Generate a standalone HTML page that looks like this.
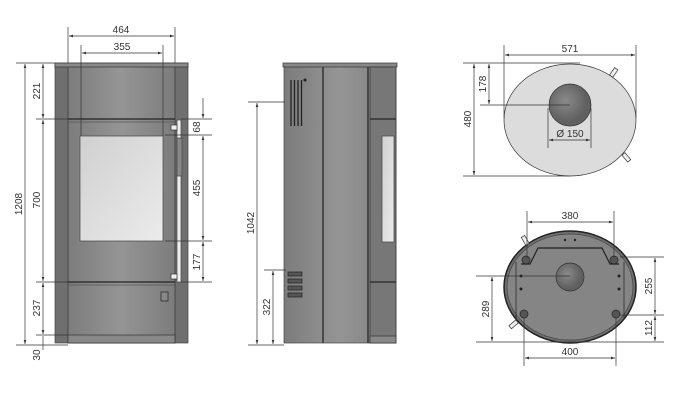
<!DOCTYPE html>
<html><head><meta charset="utf-8"><style>
html,body{margin:0;padding:0;background:#fff;}
svg{display:block;}
text{font-family:"Liberation Sans",sans-serif;font-size:10px;fill:#333;}
</style></head><body>
<svg width="684" height="418" viewBox="0 0 684 418" xmlns="http://www.w3.org/2000/svg">
<defs>
<linearGradient id="g" x1="0" x2="1"><stop offset="0" stop-color="#7c7c7c"/><stop offset="0.5" stop-color="#959595"/><stop offset="1" stop-color="#7c7c7c"/></linearGradient>
<linearGradient id="gl" x1="0" y1="0" x2="1" y2="1"><stop offset="0" stop-color="#d0d0d0"/><stop offset="1" stop-color="#ebebeb"/></linearGradient>
<radialGradient id="fl" cx="0.4" cy="0.4"><stop offset="0" stop-color="#8a8a8a"/><stop offset="1" stop-color="#606060"/></radialGradient>
<marker id="a" viewBox="0 0 6 6" refX="6" refY="3" markerWidth="6" markerHeight="6" orient="auto-start-reverse"><path d="M0,1 L6,3 L0,5 z" fill="#333"/></marker>
</defs>
<g stroke="#333" stroke-width="0.7" fill="none">
<!-- FRONT VIEW -->
<rect x="55" y="63" width="133" height="280" fill="#6f6f6f" stroke="#444"/>
<rect x="68" y="64" width="107" height="279" fill="url(#g)" stroke="#333"/>
<rect x="55" y="63" width="133" height="4" fill="#8a8a8a"/>
<line x1="68" y1="119" x2="175" y2="119" stroke-width="1.5"/>
<line x1="68" y1="122" x2="175" y2="122" stroke="#555"/>
<rect x="80" y="136" width="83" height="105" fill="url(#gl)" stroke="#444"/>
<line x1="68" y1="282" x2="175" y2="282" stroke-width="1.5"/>
<line x1="68" y1="285" x2="175" y2="285" stroke="#555"/>
<rect x="68" y="335" width="107" height="8" fill="#888" stroke="#333"/>
<rect x="177" y="120" width="4" height="162" fill="#eee" stroke="#444"/>
<rect x="177" y="138" width="5" height="38" fill="#888" stroke="#444"/>
<rect x="171" y="125" width="6" height="5" fill="#eee" stroke="#333"/>
<rect x="171" y="274" width="6" height="5" fill="#eee" stroke="#333"/>
<rect x="161" y="292" width="7" height="9" fill="#888" stroke="#222"/>
<!-- front dims -->
<line x1="68" y1="27" x2="68" y2="63"/><line x1="175" y1="27" x2="175" y2="63"/>
<line x1="69" y1="36" x2="174" y2="36" marker-start="url(#a)" marker-end="url(#a)"/>
<line x1="81" y1="45" x2="81" y2="136"/><line x1="163" y1="45" x2="163" y2="136"/>
<line x1="82" y1="53" x2="162" y2="53" marker-start="url(#a)" marker-end="url(#a)"/>
<line x1="16" y1="63" x2="55" y2="63"/><line x1="16" y1="345" x2="68" y2="345"/>
<line x1="25" y1="64" x2="25" y2="344" marker-start="url(#a)" marker-end="url(#a)"/>
<line x1="36" y1="119" x2="68" y2="119"/><line x1="36" y1="282" x2="68" y2="282"/><line x1="36" y1="335" x2="68" y2="335"/>
<line x1="43" y1="64" x2="43" y2="118" marker-start="url(#a)" marker-end="url(#a)"/>
<line x1="43" y1="120" x2="43" y2="281" marker-start="url(#a)" marker-end="url(#a)"/>
<line x1="43" y1="283" x2="43" y2="334" marker-start="url(#a)" marker-end="url(#a)"/>
<line x1="43" y1="336" x2="43" y2="350"/>
<line x1="181" y1="119" x2="212" y2="119"/><line x1="165" y1="135" x2="212" y2="135"/><line x1="165" y1="241" x2="212" y2="241"/><line x1="181" y1="282" x2="212" y2="282"/>
<line x1="203" y1="98" x2="203" y2="118" marker-end="url(#a)"/>
<line x1="203" y1="136" x2="203" y2="240" marker-start="url(#a)" marker-end="url(#a)"/>
<line x1="203" y1="242" x2="203" y2="281" marker-start="url(#a)" marker-end="url(#a)"/>
<!-- SIDE VIEW -->
<rect x="284" y="66" width="112" height="277" fill="url(#g)" stroke="#444"/>
<rect x="283" y="63" width="114" height="4" fill="#888"/>
<rect x="370" y="67" width="26" height="276" fill="#777" stroke="#333"/>
<line x1="323" y1="67" x2="323" y2="343" stroke-width="1.5"/>
<line x1="368" y1="67" x2="368" y2="343" stroke-width="1.5"/>
<line x1="370" y1="119" x2="396" y2="119" stroke-width="1.5"/>
<line x1="370" y1="282" x2="396" y2="282" stroke-width="1.5"/>
<rect x="382" y="136" width="12" height="106" fill="url(#gl)" stroke="#444"/>
<rect x="370" y="336" width="26" height="7" fill="#888"/>
<g stroke="#222" stroke-width="1.3"><line x1="291" y1="80" x2="291" y2="126"/><line x1="294.5" y1="80" x2="294.5" y2="126"/><line x1="298" y1="80" x2="298" y2="126"/><line x1="301.5" y1="80" x2="301.5" y2="126"/></g>
<circle cx="305" cy="80" r="1.3" fill="#222"/>
<g fill="#555" stroke="#222"><rect x="288" y="272" width="14" height="4"/><rect x="288" y="279" width="14" height="4"/><rect x="288" y="286" width="14" height="4"/><rect x="288" y="293" width="14" height="4"/></g>
<line x1="248" y1="102" x2="285" y2="102"/><line x1="248" y1="345" x2="284" y2="345"/>
<line x1="257" y1="103" x2="257" y2="344" marker-start="url(#a)" marker-end="url(#a)"/>
<line x1="264" y1="270" x2="286" y2="270"/>
<line x1="273" y1="271" x2="273" y2="344" marker-start="url(#a)" marker-end="url(#a)"/>
<!-- TOP VIEW -->
<ellipse cx="570" cy="120" rx="66" ry="56" fill="#dcdcdc" stroke="#333"/>
<circle cx="570" cy="105" r="21" fill="url(#fl)" stroke="#333"/>
<rect x="612" y="68" width="4" height="9" transform="rotate(35 614 72)" fill="#eee"/>
<rect x="624" y="153" width="4" height="9" transform="rotate(-40 626 157)" fill="#eee"/>
<line x1="504" y1="45" x2="504" y2="118"/><line x1="636" y1="45" x2="636" y2="118"/>
<line x1="505" y1="55" x2="635" y2="55" marker-start="url(#a)" marker-end="url(#a)"/>
<line x1="463" y1="63" x2="580" y2="63"/><line x1="463" y1="176" x2="570" y2="176"/>
<line x1="474" y1="64" x2="474" y2="175" marker-start="url(#a)" marker-end="url(#a)"/>
<line x1="480" y1="105" x2="570" y2="105"/>
<line x1="489" y1="64" x2="489" y2="104" marker-start="url(#a)" marker-end="url(#a)"/>
<line x1="548" y1="108" x2="548" y2="148"/><line x1="591" y1="108" x2="591" y2="148"/>
<line x1="549" y1="140" x2="590" y2="140" marker-start="url(#a)" marker-end="url(#a)"/>
<!-- BOTTOM VIEW -->
<ellipse cx="570" cy="287" rx="66" ry="56" fill="#6e6e6e" stroke="#222" stroke-width="1.5"/>
<ellipse cx="570" cy="287" rx="63" ry="53" fill="#858585" stroke="#444"/>
<path d="M521 264 L530 264 L538 248 L602 248 L610 264 L619 264" stroke="#222" stroke-width="1.2"/>
<line x1="516" y1="262" x2="516" y2="318" stroke="#222"/><line x1="624" y1="262" x2="624" y2="318" stroke="#222"/>
<circle cx="570" cy="277" r="14" fill="url(#fl)" stroke="#333"/>
<g fill="#555" stroke="#222"><circle cx="526" cy="260" r="4"/><circle cx="614" cy="260" r="4"/><circle cx="524" cy="314" r="4"/><circle cx="616" cy="314" r="4"/></g>
<g fill="#222" stroke="none"><circle cx="521" cy="276" r="1.5"/><circle cx="521" cy="289" r="1.5"/><circle cx="619" cy="276" r="1.5"/><circle cx="619" cy="289" r="1.5"/><circle cx="565" cy="240" r="1.2"/><circle cx="575" cy="240" r="1.2"/></g>
<rect x="523" y="236" width="4" height="9" transform="rotate(-30 525 240)" fill="#eee"/>
<rect x="512" y="320" width="4" height="9" transform="rotate(50 514 324)" fill="#eee"/>
<line x1="527" y1="211" x2="527" y2="258"/><line x1="614" y1="211" x2="614" y2="258"/>
<line x1="528" y1="222" x2="613" y2="222" marker-start="url(#a)" marker-end="url(#a)"/>
<line x1="620" y1="257" x2="664" y2="257"/><line x1="620" y1="315" x2="664" y2="315"/><line x1="476" y1="342" x2="664" y2="342"/>
<line x1="655" y1="258" x2="655" y2="314" marker-start="url(#a)" marker-end="url(#a)"/>
<line x1="655" y1="316" x2="655" y2="341" marker-start="url(#a)" marker-end="url(#a)"/>
<line x1="476" y1="276" x2="570" y2="276"/>
<line x1="492" y1="277" x2="492" y2="341" marker-start="url(#a)" marker-end="url(#a)"/>
<line x1="524" y1="318" x2="524" y2="366"/><line x1="616" y1="318" x2="616" y2="366"/>
<line x1="525" y1="358" x2="615" y2="358" marker-start="url(#a)" marker-end="url(#a)"/>
</g>
<!-- LABELS -->
<text x="121" y="33" text-anchor="middle">464</text>
<text x="122" y="50" text-anchor="middle">355</text>
<text transform="translate(22 204) rotate(-90)" text-anchor="middle">1208</text>
<text transform="translate(40 91) rotate(-90)" text-anchor="middle">221</text>
<text transform="translate(40 200) rotate(-90)" text-anchor="middle">700</text>
<text transform="translate(40 308) rotate(-90)" text-anchor="middle">237</text>
<text transform="translate(40 355) rotate(-90)" text-anchor="middle">30</text>
<text transform="translate(200 127) rotate(-90)" text-anchor="middle">68</text>
<text transform="translate(200 188) rotate(-90)" text-anchor="middle">455</text>
<text transform="translate(200 262) rotate(-90)" text-anchor="middle">177</text>
<text transform="translate(254 223) rotate(-90)" text-anchor="middle">1042</text>
<text transform="translate(270 307) rotate(-90)" text-anchor="middle">322</text>
<text x="570" y="52" text-anchor="middle">571</text>
<text transform="translate(471 119) rotate(-90)" text-anchor="middle">480</text>
<text transform="translate(486 84) rotate(-90)" text-anchor="middle">178</text>
<text x="570" y="137" text-anchor="middle">Ø 150</text>
<text x="570" y="219" text-anchor="middle">380</text>
<text transform="translate(652 286) rotate(-90)" text-anchor="middle">255</text>
<text transform="translate(652 328) rotate(-90)" text-anchor="middle">112</text>
<text transform="translate(489 309) rotate(-90)" text-anchor="middle">289</text>
<text x="570" y="355" text-anchor="middle">400</text>
</svg>
</body></html>
